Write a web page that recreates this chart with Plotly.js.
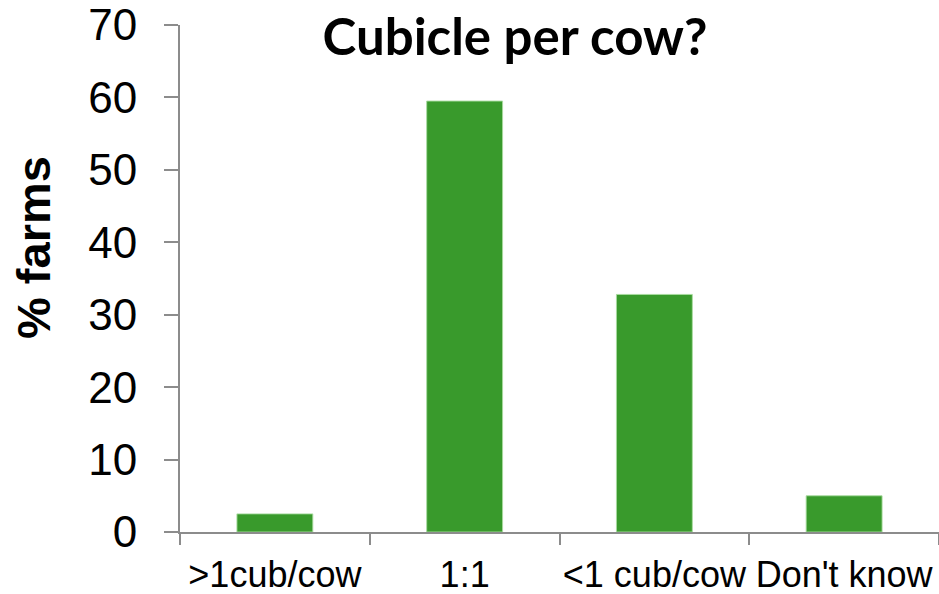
<!DOCTYPE html>
<html>
<head>
<meta charset="utf-8">
<script src="https://cdn.plot.ly/plotly-3.0.1.min.js"></script>
<style>
  html, body { margin: 0; padding: 0; background: #ffffff; }
  #chart { width: 939px; height: 594px; }
</style>
</head>
<body>
<div id="chart"></div>
<script>
// Survey answers: how many cubicles are available per cow
const categories = ['>1cub/cow', '1:1', '<1 cub/cow', "Don't know"];
const percentFarms = [2.5, 59.5, 32.8, 5.0];
const yTickValues = [0, 10, 20, 30, 40, 50, 60, 70];

const axisGrey = '#8c8c8c';

const trace = {
  type: 'bar',
  x: categories,
  y: percentFarms,
  marker: {
    color: '#399a2c',
    line: { color: 'rgba(170,220,160,0.9)', width: 1 }
  },
  hoverinfo: 'x+y'
};

const margin = { l: 180, r: 0, t: 25, b: 62 };
const plotW = 939 - margin.l - margin.r;
const plotH = 594 - margin.t - margin.b;

const layout = {
  width: 939,
  height: 594,
  margin: margin,
  paper_bgcolor: '#ffffff',
  plot_bgcolor: '#ffffff',
  bargap: 0.6,
  showlegend: false,
  title: {
    text: '<b>Cubicle per cow?</b>',
    font: { family: 'Lato, "Open Sans", sans-serif', size: 51, color: '#000000' },
    x: 515 / 939,
    xanchor: 'center',
    xref: 'container',
    y: 1 - 37 / 594,
    yref: 'container',
    yanchor: 'middle'
  },
  xaxis: {
    type: 'category',
    showline: true,
    linecolor: axisGrey,
    linewidth: 2,
    showgrid: false,
    zeroline: false,
    ticks: 'outside',
    tickson: 'boundaries',
    ticklen: 11,
    tickwidth: 2,
    tickcolor: axisGrey,
    tickangle: 0,
    tickfont: { family: '"Liberation Sans", Arial, sans-serif', size: 36, color: '#000000' },
    ticklabelstandoff: 10,
    fixedrange: true
  },
  yaxis: {
    range: [0, 70],
    tickvals: yTickValues,
    ticktext: yTickValues.map(String),
    showline: true,
    linecolor: axisGrey,
    linewidth: 2,
    showgrid: false,
    zeroline: false,
    ticks: 'outside',
    ticklen: 14,
    tickwidth: 2,
    tickcolor: axisGrey,
    tickfont: { family: '"Liberation Sans", Arial, sans-serif', size: 44, color: '#000000' },
    ticklabelstandoff: 18,
    fixedrange: true
  },
  annotations: [{
    text: '<b>% farms</b>',
    textangle: -90,
    xref: 'paper',
    yref: 'paper',
    x: (33 - margin.l) / plotW,
    y: (594 - margin.b - 248) / plotH,
    xanchor: 'center',
    yanchor: 'middle',
    showarrow: false,
    font: { family: '"Liberation Sans", Arial, sans-serif', size: 47, color: '#000000' }
  }]
};

Plotly.newPlot('chart', [trace], layout, { displayModeBar: false, staticPlot: true });
</script>
</body>
</html>
